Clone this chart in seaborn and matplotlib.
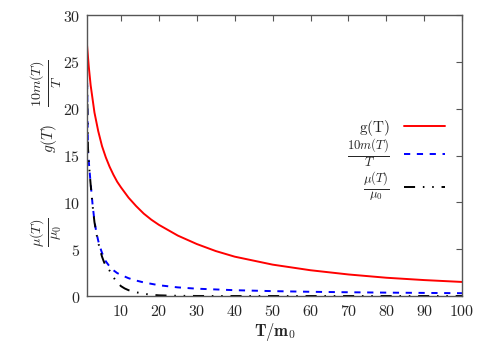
import numpy as np
import pandas as pd
import matplotlib
matplotlib.use("Agg")
import matplotlib.pyplot as plt
import seaborn as sns
from matplotlib.ticker import FuncFormatter

# Data
t_g = [1, 1.5, 2, 3, 4, 5, 6, 7, 8, 9, 10, 12, 14, 16, 18, 20, 25, 30, 35, 40, 50, 60, 70,
       80, 90, 100]
g_vals = [27.0, 24.5, 22.5, 19.6, 17.6, 16.0, 14.8, 13.8, 12.95, 12.2, 11.6, 10.5, 9.6, 8.8,
          8.15, 7.6, 6.45, 5.55, 4.8, 4.2, 3.35, 2.75, 2.3, 1.95, 1.7, 1.5]

t_m = [1, 1.15, 1.3, 1.6, 2, 2.5, 3, 3.5, 4, 4.5, 5, 5.5, 6, 7, 8, 9, 10, 12, 14, 16, 20, 25,
       30, 40, 50, 60, 70, 80, 90, 100]
m_vals = [25.5, 20.0, 15.5, 13.9, 12.0, 9.8, 8.0, 6.8, 5.9, 5.2, 4.6, 4.1, 3.7, 3.15, 2.75,
          2.45, 2.25, 1.9, 1.65, 1.45, 1.15, 0.92, 0.78, 0.62, 0.52, 0.45, 0.4, 0.36, 0.33, 0.3]

t_mu = [1, 1.3, 1.6, 2, 2.5, 3, 3.5, 4, 4.5, 5, 5.5, 6, 7, 8, 9, 10, 11, 12, 14, 16, 18, 20,
        25, 30, 40, 100]
mu_vals = [24.5, 15.8, 13.8, 11.9, 9.7, 7.9, 6.7, 5.7, 4.9, 4.2, 3.65, 3.2, 2.7, 2.0, 1.45,
           1.05, 0.8, 0.62, 0.4, 0.24, 0.13, 0.07, 0.02, 0.005, 0.0, 0.0]

x_ticks = [10, 20, 30, 40, 50, 60, 70, 80, 90, 100]
y_ticks = [0, 5, 10, 15, 20, 25, 30]

df_g = pd.DataFrame({"T": t_g, "v": g_vals})
df_m = pd.DataFrame({"T": t_m, "v": m_vals})
df_mu = pd.DataFrame({"T": t_mu, "v": mu_vals})

sns.set_style("white")
plt.rcParams["mathtext.fontset"] = "cm"
plt.rcParams["font.family"] = ["DejaVu Serif"]

fig = plt.figure(figsize=(4.88, 3.42), dpi=100)
ax = fig.add_axes([0.178, 0.1345, 0.769, 0.8215])

sns.lineplot(data=df_g, x="T", y="v", ax=ax, color="#ff0000", lw=1.4,
             label=r"$\mathrm{g(T)}$")
sns.lineplot(data=df_m, x="T", y="v", ax=ax, color="#0000ff", lw=1.4,
             linestyle=(0, (3.2, 3.4)), label=r"$\frac{10m(T)}{T}$")
sns.lineplot(data=df_mu, x="T", y="v", ax=ax, color="black", lw=1.4,
             linestyle=(0, (5.7, 4, 0.8, 4, 0.8, 4)), label=r"$\frac{\mu(T)}{\mu_0}$")

ax.set_xlim(1, 100)
ax.set_ylim(0, 30)
ax.set_xticks(x_ticks)
ax.set_yticks(y_ticks)
fmt = FuncFormatter(lambda v, p: r"$%d$" % v)
ax.xaxis.set_major_formatter(fmt)
ax.yaxis.set_major_formatter(fmt)
ax.tick_params(direction="in", length=4, width=0.8, color="#555555", labelsize=11.5,
               top=True, right=True, pad=5)
for s in ax.spines.values():
    s.set_color("#555555")
    s.set_linewidth(1.0)

ax.set_xlabel(r"$\mathbf{T/m_0}$", fontsize=12, labelpad=1)
ax.set_ylabel("")

# stacked y-axis labels
fig.text(0.094, 0.757, r"$\frac{10m(T)}{T}$", rotation=90, fontsize=14.5,
         ha="center", va="center")
fig.text(0.101, 0.594, r"$g(T)$", rotation=90, fontsize=11, ha="center", va="center")
fig.text(0.094, 0.32, r"$\frac{\mu(T)}{\mu_0}$", rotation=90, fontsize=14.5,
         ha="center", va="center")

leg = ax.legend(loc="upper right", bbox_to_anchor=(0.955, 0.635), frameon=False,
                markerfirst=False, fontsize=11, handlelength=2.7, labelspacing=0.0,
                handletextpad=0.9, borderpad=0, borderaxespad=0)
for txt in leg.get_texts()[1:]:
    txt.set_fontsize(13)

fig.savefig("out.png", dpi=100)
